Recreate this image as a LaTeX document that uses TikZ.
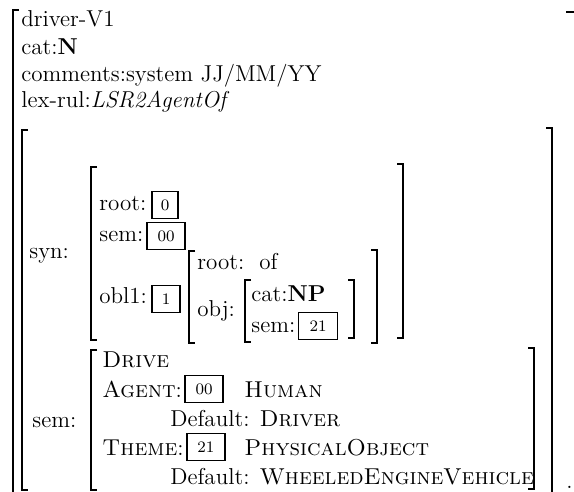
\documentclass[tikz,border=0pt]{standalone}
\usepackage{tikz}
\usetikzlibrary{positioning}
\tikzset{
  brk/.style={line width=1pt},
  lbl/.style={anchor=base west,inner sep=0pt,font=\fontsize{11.5}{13}\selectfont},
  tagbox/.style={draw,line width=0.75pt,inner sep=0pt,minimum height=13.5pt,font=\fontsize{8}{9}\selectfont},
}
\begin{document}
\begin{tikzpicture}[x=0.5pt,y=-0.5pt]
  \useasboundingbox (0,0) rectangle (574,492);
  % left brackets: x/top/bottom
  \foreach \x/\t/\b in {13/10/500, 22/130/490, 91/167/340, 189/251/343, 245/280/342, 91/350/490}
    \draw[brk] (\x+6,\t) -- (\x,\t) -- (\x,\b) -- (\x+6,\b);
  % right brackets
  \foreach \x/\t/\b in {552/128/500, 403/164/338, 377/250/343, 354/280/338, 534/348/489}
    \draw[brk] (\x-6,\t) -- (\x,\t) -- (\x,\b) -- (\x-6,\b);
  \draw[brk] (566,12) -- (575,12);
  % head
  \node[lbl] (head) at (21,27) {driver-V1};
  \node[lbl] (cat) at (21,55) {cat:\textbf{N}};
  \node[lbl] (cmt) at (21,82) {comments:system JJ/MM/YY};
  \node[lbl] (lex) at (21,108) {lex-rul:\textit{LSR2AgentOf}};
  % syn
  \node[lbl] (syn) at (29,259) {syn:};
  \node[lbl] (sroot) at (99,211) {root:};
  \node[tagbox,minimum width=13pt] (t0) at (165,205) {0};
  \node[lbl] (ssem) at (99,242) {sem:};
  \node[tagbox,minimum width=19pt] (t00) at (166,236) {00};
  \node[lbl] (obl) at (99,304) {obl1:};
  \node[tagbox,minimum width=14pt] (t1) at (166,299) {1};
  \node[lbl] (oroot) at (197,270) {root:\ \ of};
  \node[lbl] (obj) at (197,316) {obj:};
  \node[lbl] (ocat) at (251,302) {cat:\textbf{NP}};
  \node[lbl] (osem) at (251,333) {sem:};
  \node[tagbox,minimum width=19.5pt] (t21) at (318,326) {21};
  % sem
  \node[lbl] (sem) at (32,428) {sem:};
  \node[lbl] (drive) at (102,367) {\textsc{Drive}};
  \node[lbl] (agent) at (102,397) {\textsc{Agent}:};
  \node[tagbox,minimum width=19pt,right=1pt of agent] (a00) {00};
  \node[lbl] (human) at (244,397) {\textsc{Human}};
  \node[lbl] (dflt1) at (170,427) {Default: \textsc{Driver}};
  \node[lbl] (theme) at (102,455) {\textsc{Theme}:};
  \node[tagbox,minimum width=19pt,right=1pt of theme] (a21) {21};
  \node[lbl] (phys) at (244,455) {\textsc{PhysicalObject}};
  \node[lbl] (dflt2) at (170,484) {Default: \textsc{WheeledEngineVehicle}};
  \node[lbl] (dot) at (566,488) {.};
\end{tikzpicture}
\end{document}
